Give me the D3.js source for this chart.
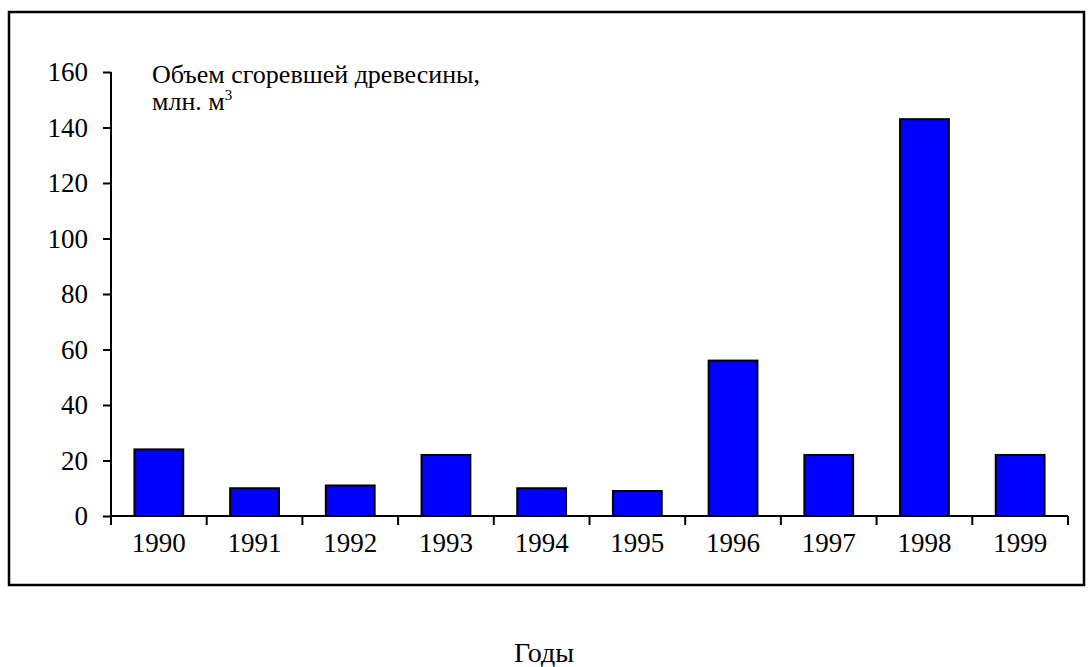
<!DOCTYPE html>
<html>
<head>
<meta charset="utf-8">
<script src="https://cdn.jsdelivr.net/npm/d3@7"></script>
<style>
  body { margin: 0; background: #fff; overflow: hidden; }
  svg text { font-family: "Liberation Serif", "DejaVu Serif", serif; fill: #000; }
</style>
</head>
<body>
<div id="chart"></div>
<script>
const years = ["1990", "1991", "1992", "1993", "1994", "1995", "1996", "1997", "1998", "1999"];
const volumes = [24, 10, 11, 22, 10, 9, 56, 22, 143, 22];
const yTicks = [0, 20, 40, 60, 80, 100, 120, 140, 160];

const w = 1088, h = 667;
const serif = "Liberation Serif";
const svg = d3.select("#chart").append("svg")
  .attr("width", w).attr("height", h)
  .attr("font-family", serif);

// outer frame
svg.append("rect")
  .attr("x", 9).attr("y", 12)
  .attr("width", 1075).attr("height", 573)
  .attr("fill", "none").attr("stroke", "#000").attr("stroke-width", 2.5);

const x = d3.scaleBand().domain(years).range([111, 1068]).padding(0);
const y = d3.scaleLinear().domain([0, 160]).range([516, 72]);

// bars
const barW = x.bandwidth() * 0.51;
svg.append("g").selectAll("rect")
  .data(years)
  .join("rect")
  .attr("x", d => x(d) + (x.bandwidth() - barW) / 2)
  .attr("y", (d, i) => y(volumes[i]))
  .attr("width", barW)
  .attr("height", (d, i) => y(0) - y(volumes[i]))
  .attr("fill", "#0000ff")
  .attr("stroke", "#000")
  .attr("stroke-width", 2);

// y axis
const yAxis = svg.append("g")
  .attr("transform", `translate(${x.range()[0]},0)`)
  .call(d3.axisLeft(y).tickValues(yTicks).tickSize(8).tickPadding(15).tickFormat(d3.format("d")));
yAxis.attr("font-family", serif);
yAxis.select(".domain").attr("stroke-width", 2).attr("d", `M0,${y(160)}V${y(0)}`);
yAxis.selectAll(".tick line").attr("stroke-width", 2);
yAxis.selectAll(".tick text").attr("font-size", 27).attr("font-family", serif);

// x axis: ticks at band boundaries
const xAxisG = svg.append("g").attr("transform", `translate(0,${y(0)})`);
xAxisG.append("line")
  .attr("x1", x.range()[0]).attr("x2", x.range()[1])
  .attr("stroke", "#000").attr("stroke-width", 2);
const bounds = years.map(d => x(d)).concat([x.range()[1]]);
xAxisG.selectAll(".bt")
  .data(bounds)
  .join("line")
  .attr("x1", d => d).attr("x2", d => d)
  .attr("y1", 0).attr("y2", 9)
  .attr("stroke", "#000").attr("stroke-width", 2);
xAxisG.selectAll(".yl")
  .data(years)
  .join("text")
  .attr("x", d => x(d) + x.bandwidth() / 2)
  .attr("y", 36)
  .attr("text-anchor", "middle")
  .attr("font-size", 27)
  .attr("font-family", serif)
  .text(d => d);

// in-chart label
svg.append("text")
  .attr("x", 152).attr("y", 83)
  .attr("font-size", 26)
  .attr("font-family", serif)
  .text("Объем сгоревшей древесины,");
const unit = svg.append("text")
  .attr("x", 152).attr("y", 110)
  .attr("font-size", 26)
  .attr("font-family", serif);
unit.append("tspan").text("млн. м");
unit.append("tspan").attr("dy", -10).attr("font-size", 15).text("3");

// x title
svg.append("text")
  .attr("x", 544).attr("y", 662)
  .attr("text-anchor", "middle")
  .attr("font-size", 28)
  .attr("font-family", serif)
  .text("Годы");
</script>
</body>
</html>
